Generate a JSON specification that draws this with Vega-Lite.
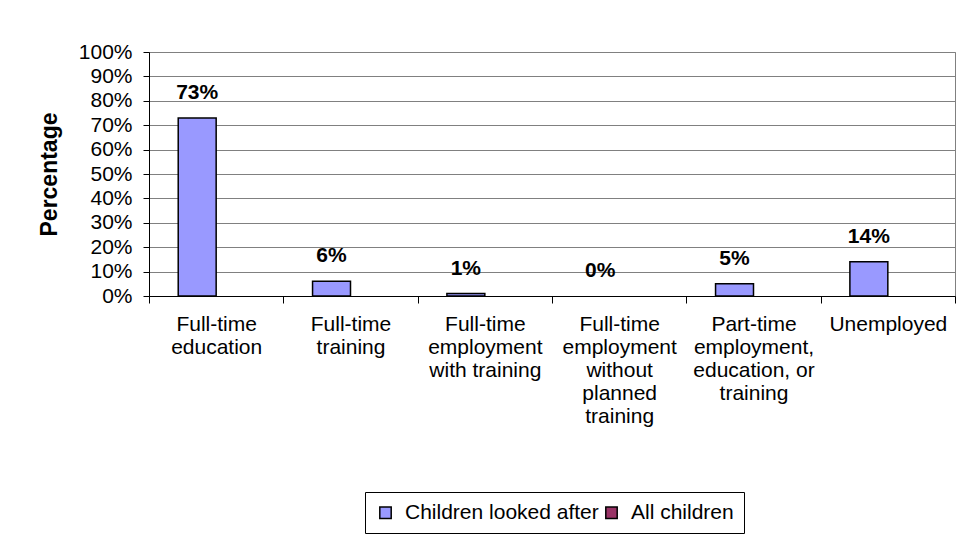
{
  "$schema": "https://vega.github.io/schema/vega-lite/v6.json",
  "width": 806,
  "height": 244,
  "autosize": {"type": "none"},
  "padding": {"left": 149, "top": 52, "right": 5, "bottom": 240},
  "background": "white",
  "config": {
    "font": "Liberation Sans",
    "view": {"stroke": "#808080", "strokeWidth": 1}
  },
  "data": {
    "values": [
      {"category": "Full-time|education", "series": "Children looked after", "value": 0.73},
      {"category": "Full-time|training", "series": "Children looked after", "value": 0.06},
      {"category": "Full-time|employment|with training", "series": "Children looked after", "value": 0.01},
      {"category": "Full-time|employment|without|planned|training", "series": "Children looked after", "value": 0.0},
      {"category": "Part-time|employment,|education, or|training", "series": "Children looked after", "value": 0.05},
      {"category": "Unemployed", "series": "Children looked after", "value": 0.14}
    ]
  },
  "encoding": {
    "x": {
      "field": "category",
      "type": "nominal",
      "sort": null,
      "scale": {"paddingInner": 0, "paddingOuter": 0},
      "axis": {
        "title": null,
        "labelAngle": 0,
        "tickBand": "extent",
        "ticks": true,
        "tickSize": 7,
        "tickColor": "black",
        "domainColor": "black",
        "grid": false,
        "labelExpr": "isValid(datum.value) ? split(datum.value, '|') : ''",
        "labelFontSize": 21,
        "labelLineHeight": 23,
        "labelBaseline": "top",
        "labelPadding": 10,
        "labelColor": "black",
        "labelLimit": 200
      }
    },
    "xOffset": {
      "field": "series",
      "type": "nominal",
      "scale": {"domain": ["Children looked after", "All children"], "paddingOuter": 0.77, "paddingInner": 0}
    },
    "y": {
      "field": "value",
      "type": "quantitative",
      "scale": {"domain": [0, 1], "nice": false},
      "axis": {
        "values": [0, 0.1, 0.2, 0.3, 0.4, 0.5, 0.6, 0.7, 0.8, 0.9, 1],
        "format": ".0%",
        "grid": true,
        "gridColor": "#808080",
        "gridWidth": 1,
        "domainColor": "black",
        "tickColor": "black",
        "tickSize": 6,
        "labelFontSize": 21,
        "labelPadding": 11,
        "labelColor": "black",
        "title": "Percentage",
        "titleFontSize": 23,
        "titleFontWeight": "bold",
        "titleColor": "black",
        "titlePadding": 17
      }
    }
  },
  "layer": [
    {
      "mark": {"type": "bar", "stroke": "black", "strokeWidth": 1.5},
      "encoding": {
        "strokeOpacity": {"condition": {"test": "datum.value > 0", "value": 1}, "value": 0},
        "color": {
          "field": "series",
          "type": "nominal",
          "scale": {"domain": ["Children looked after", "All children"], "range": ["#9999FF", "#993366"]},
          "legend": {
            "orient": "none",
            "legendX": 216,
            "legendY": 440,
            "direction": "horizontal",
            "title": null,
            "strokeColor": "black",
            "fillColor": "white",
            "padding": 10,
            "labelFontSize": 21,
            "labelLimit": 400,
            "labelColor": "black",
            "symbolType": "square",
            "symbolSize": 130,
            "symbolStrokeColor": "black",
            "symbolStrokeWidth": 1.5,
            "symbolOpacity": 1,
            "labelOffset": 9,
            "columnPadding": 2
          }
        }
      }
    },
    {
      "mark": {"type": "text", "fontWeight": "bold", "fontSize": 21, "baseline": "alphabetic", "dy": -19, "color": "black"},
      "encoding": {
        "text": {"field": "value", "type": "quantitative", "format": ".0%"}
      }
    }
  ]
}
